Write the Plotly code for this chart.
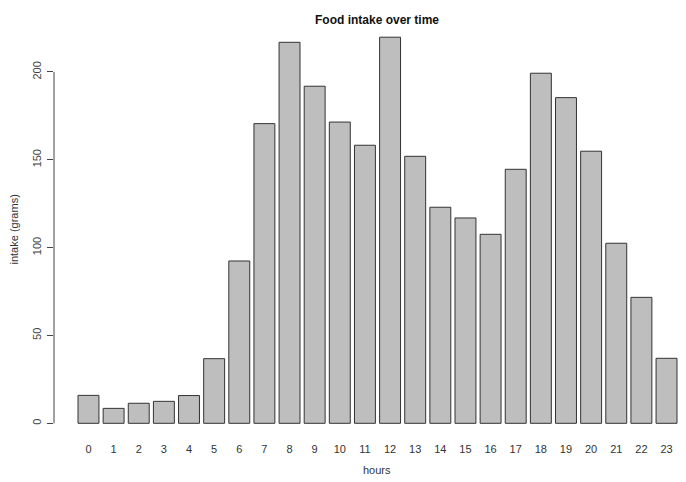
import plotly.graph_objects as go

hours = [str(h) for h in range(24)]
intake = [15.9, 8.5, 11.4, 12.5, 15.8, 36.8, 92.4, 170.6, 216.9, 191.9, 171.5, 158.3,
          219.8, 152.0, 123.0, 116.9, 107.6, 144.6, 199.3, 185.4, 154.9, 102.5, 71.7, 37.0]
y_ticks = [0, 50, 100, 150, 200]

FONT = "Liberation Sans, Arial, sans-serif"
W, H = 686, 482
ml, mr, mt, mb = 54, 0, 20, 43

fig = go.Figure(go.Bar(
    x=list(range(24)), y=intake, width=0.833,
    marker=dict(color="#bebebe", line=dict(color="#333333", width=1)),
    hoverinfo="x+y",
))

fig.update_layout(
    width=W, height=H,
    margin=dict(l=ml, r=mr, t=mt, b=mb, pad=0),
    plot_bgcolor="white", paper_bgcolor="white",
    showlegend=False,
    font=dict(family=FONT, size=11, color="#333333"),
    xaxis=dict(range=[-1.372, 23.775], tickmode="array",
               tickvals=list(range(24)), ticktext=hours,
               showgrid=False, zeroline=False, showline=False,
               ticks="", tickfont=dict(size=11, color="#333333"),
               ticklabelstandoff=2),
    yaxis=dict(range=[-8.94, 229.6], tickmode="array", tickvals=y_ticks,
               ticktext=[str(v) for v in y_ticks], tickangle=-90,
               showgrid=False, zeroline=False, showline=False,
               ticks="outside", ticklen=6, tickcolor="#444444",
               tickfont=dict(size=11, color="#444444"), ticklabelstandoff=2),
    shapes=[dict(type="line", xref="paper", yref="y", x0=0, x1=0,
                 y0=y_ticks[0], y1=y_ticks[-1],
                 line=dict(color="#444444", width=1))],
    annotations=[
        dict(text="<b>Food intake over time</b>", xref="paper", yref="paper",
             x=(377 - ml) / (W - ml - mr), y=1 + (mt - 20) / (H - mt - mb),
             xanchor="center", yanchor="middle", showarrow=False,
             font=dict(size=12, color="#111111")),
        dict(text="hours", xref="paper", yref="paper",
             x=(377 - ml) / (W - ml - mr), y=-(470 - (H - mb)) / (H - mt - mb),
             xanchor="center", yanchor="middle", showarrow=False,
             font=dict(size=11, color="#333333")),
        dict(text="intake (grams)", xref="paper", yref="paper",
             x=-(ml - 13) / (W - ml - mr), y=0.5, textangle=-90,
             xanchor="center", yanchor="middle", showarrow=False,
             font=dict(size=11, color="#333333")),
    ],
)

fig.write_html("out.html", config={"displayModeBar": False},
               post_script="document.body.style.margin='0';document.body.style.overflow='hidden';")
